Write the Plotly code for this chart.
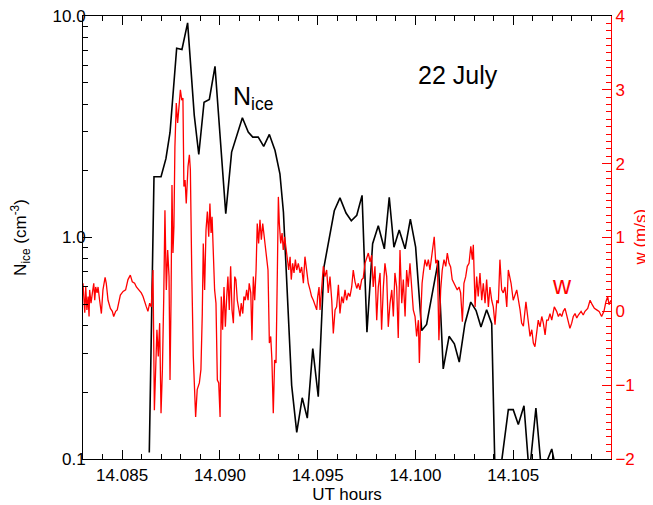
import plotly.graph_objects as go

# ---------------- data ----------------
# Ice number concentration (cm^-3), left log axis
nice_time = [14.08639, 14.08663, 14.08699, 14.08724, 14.08745, 14.08779, 14.08806, 14.08835,
             14.08869, 14.08892, 14.08919, 14.08946, 14.08975, 14.09030, 14.09060, 14.09115,
             14.09145, 14.09168, 14.09196, 14.09224, 14.09253, 14.09282, 14.09307, 14.09325,
             14.09367, 14.09393, 14.09421, 14.09447, 14.09475, 14.09503, 14.09532, 14.09585,
             14.09614, 14.09645, 14.09672, 14.09700, 14.09727, 14.09752, 14.09781, 14.09810,
             14.09841, 14.09866, 14.09890, 14.09917, 14.09947, 14.09974, 14.10001, 14.10032,
             14.10057, 14.10117, 14.10142, 14.10172, 14.10199, 14.10224, 14.10253, 14.10283,
             14.10310, 14.10335, 14.10364, 14.10390, 14.10407, 14.10432, 14.10475, 14.10500,
             14.10526, 14.10555, 14.10582, 14.10616, 14.10646, 14.10697, 14.10724]
nice_vals = [0.107, 1.88, 1.88, 2.27, 2.98, 7.16, 7.06, 9.31,
             3.56, 2.37, 4.08, 4.20, 5.93, 1.28, 2.43, 3.47,
             2.99, 2.84, 2.84, 2.58, 2.92, 2.47, 1.94, 1.30,
             0.215, 0.132, 0.189, 0.153, 0.315, 0.191, 0.734, 1.32,
             1.51, 1.29, 1.19, 1.26, 1.55, 0.374, 0.937, 1.13,
             0.889, 1.52, 0.904, 1.08, 0.889, 1.21, 0.904, 0.380,
             0.405, 0.787, 0.255, 0.358, 0.331, 0.274, 0.408, 0.511,
             0.468, 0.394, 0.472, 0.408, 0.085, 0.085, 0.167, 0.167,
             0.143, 0.174, 0.085, 0.170, 0.085, 0.111, 0.085]

# Vertical wind w (m/s), right linear axis
w_time = [
    14.08300, 14.08309, 14.08314, 14.08320, 14.08326, 14.08331, 14.08334, 14.08341, 14.08348, 14.08355,
    14.08360, 14.08365, 14.08372, 14.08377, 14.08385, 14.08394, 14.08402, 14.08413, 14.08419, 14.08428,
    14.08440, 14.08450, 14.08457, 14.08467, 14.08475, 14.08483, 14.08491, 14.08505, 14.08518, 14.08530,
    14.08542, 14.08552, 14.08564, 14.08573, 14.08586, 14.08598, 14.08607, 14.08616, 14.08624, 14.08632,
    14.08641, 14.08649, 14.08658, 14.08665, 14.08672, 14.08678, 14.08685, 14.08692, 14.08699, 14.08706,
    14.08713, 14.08719, 14.08726, 14.08733, 14.08740, 14.08745, 14.08750, 14.08755, 14.08760, 14.08765,
    14.08770, 14.08777, 14.08784, 14.08791, 14.08798, 14.08805, 14.08811, 14.08816, 14.08822, 14.08828,
    14.08837, 14.08844, 14.08849, 14.08856, 14.08864, 14.08876, 14.08884, 14.08895, 14.08903, 14.08910,
    14.08915, 14.08922, 14.08929, 14.08936, 14.08943, 14.08949, 14.08955, 14.08960, 14.08966, 14.08973,
    14.08980, 14.08987, 14.08994, 14.09001, 14.09007, 14.09014, 14.09021, 14.09028, 14.09035, 14.09041,
    14.09048, 14.09055, 14.09062, 14.09069, 14.09076, 14.09082, 14.09089, 14.09096, 14.09103, 14.09109,
    14.09117, 14.09123, 14.09130, 14.09137, 14.09144, 14.09150, 14.09158, 14.09164, 14.09171, 14.09178,
    14.09185, 14.09191, 14.09198, 14.09205, 14.09212, 14.09219, 14.09226, 14.09232, 14.09239, 14.09246,
    14.09253, 14.09260, 14.09266, 14.09273, 14.09280, 14.09287, 14.09294, 14.09299, 14.09304, 14.09311,
    14.09318, 14.09324, 14.09331, 14.09338, 14.09345, 14.09352, 14.09359, 14.09365, 14.09372, 14.09379,
    14.09386, 14.09393, 14.09401, 14.09410, 14.09418, 14.09427, 14.09435, 14.09444, 14.09452, 14.09461,
    14.09469, 14.09478, 14.09486, 14.09495, 14.09500, 14.09507, 14.09512, 14.09521, 14.09529, 14.09537,
    14.09546, 14.09554, 14.09563, 14.09572, 14.09580, 14.09589, 14.09597, 14.09606, 14.09614, 14.09623,
    14.09631, 14.09640, 14.09648, 14.09657, 14.09665, 14.09674, 14.09682, 14.09691, 14.09700, 14.09708,
    14.09716, 14.09725, 14.09733, 14.09742, 14.09751, 14.09759, 14.09768, 14.09776, 14.09784, 14.09793,
    14.09802, 14.09810, 14.09819, 14.09827, 14.09836, 14.09844, 14.09853, 14.09861, 14.09870, 14.09879,
    14.09887, 14.09895, 14.09904, 14.09912, 14.09921, 14.09930, 14.09938, 14.09947, 14.09955, 14.09963,
    14.09972, 14.09981, 14.09989, 14.09998, 14.10006, 14.10015, 14.10020, 14.10027, 14.10034, 14.10040,
    14.10049, 14.10058, 14.10066, 14.10074, 14.10083, 14.10091, 14.10096, 14.10104, 14.10112, 14.10120,
    14.10129, 14.10137, 14.10146, 14.10155, 14.10163, 14.10172, 14.10180, 14.10188, 14.10197, 14.10206,
    14.10214, 14.10223, 14.10231, 14.10240, 14.10248, 14.10257, 14.10265, 14.10274, 14.10283, 14.10291,
    14.10296, 14.10305, 14.10313, 14.10321, 14.10330, 14.10339, 14.10347, 14.10356, 14.10364, 14.10373,
    14.10381, 14.10390, 14.10398, 14.10407, 14.10416, 14.10424, 14.10432, 14.10441, 14.10449, 14.10458,
    14.10467, 14.10475, 14.10489, 14.10500, 14.10518, 14.10535, 14.10543, 14.10552, 14.10565, 14.10574,
    14.10586, 14.10595, 14.10603, 14.10611, 14.10620, 14.10628, 14.10637, 14.10646, 14.10654, 14.10663,
    14.10671, 14.10679, 14.10688, 14.10697, 14.10710, 14.10722, 14.10731, 14.10739, 14.10748, 14.10756,
    14.10765, 14.10774, 14.10782, 14.10790, 14.10799, 14.10807, 14.10816, 14.10825, 14.10833, 14.10847,
    14.10858, 14.10867, 14.10881, 14.10893, 14.10904, 14.10915, 14.10927, 14.10939, 14.10952, 14.10964,
    14.10974, 14.10983, 14.10990, 14.11000]
w_vals = [
    0.38, -0.02, 0.33, 0.02, 0.20, -0.07, 0.29, 0.11, 0.25, 0.38,
    0.15, 0.33, 0.25, 0.33, 0.15, -0.03, 0.29, 0.46, 0.38, 0.15,
    0.04, 0.00, -0.07, 0.00, 0.02, 0.15, 0.22, 0.27, 0.29, 0.43,
    0.49, 0.40, 0.38, 0.33, 0.29, 0.25, 0.20, 0.11, 0.06, 0.00,
    0.11, 0.06, 0.56, -1.34, -0.79, -0.25, -0.61, -0.16, -1.38, -0.79,
    0.20, 1.37, 0.29, 0.83, 0.47, -0.93, 0.11, 1.71, 0.79, 1.15,
    2.23, 2.82, 2.55, 2.86, 3.00, 2.86, 2.89, 1.69, 1.78, 1.46,
    1.96, 2.12, 1.92, 0.56, -0.61, -1.43, -1.06, -0.97, -0.79, -0.03,
    0.92, 0.29, 1.10, 1.35, 1.01, 1.46, 1.06, 1.28, 0.65, 0.29,
    0.11, -0.93, -0.97, -1.43, 0.20, -0.25, 0.33, -0.21, 0.20, 0.47,
    0.02, 0.61, 0.02, -0.16, 0.47, 0.43, 0.15, 0.02, -0.07, 0.11,
    -0.03, 0.20, 0.15, 0.29, 0.15, 0.38, 0.25, -0.39, 0.47, 0.15,
    0.56, 1.19, 0.92, 1.24, 0.97, 1.19, 1.01, 0.83, 0.74, 0.56,
    -0.43, -0.34, -0.66, -1.38, -0.66, -0.70, 0.56, 1.55, 1.19, 0.92,
    1.06, 0.83, 1.01, 0.83, 0.74, 0.56, 0.74, 0.43, 0.65, 0.52,
    0.70, 0.56, 0.65, 0.52, 0.60, 0.38, 0.74, 0.56, 0.38, 0.29,
    0.20, 0.15, 0.10, 0.02, 0.20, 0.33, 0.02, 0.28, 0.61, 0.47,
    0.56, 0.25, 0.47, 0.15, -0.30, 0.02, 0.06, 0.36, -0.03, 0.20,
    0.11, 0.29, 0.15, 0.25, 0.20, 0.33, 0.56, 0.40, 0.31, 0.38,
    0.29, 0.43, 0.45, 0.65, 0.74, 0.79, 0.67, 0.76, 0.33, 0.61,
    -0.12, 0.33, 0.52, -0.25, 0.33, 0.65, 0.47, -0.21, 0.11, 0.29,
    -0.07, 0.52, 0.33, -0.36, 0.83, 0.11, 0.43, -0.07, 0.56, 0.33,
    0.65, 0.25, 0.02, -0.07, -0.34, -0.12, -0.70, -0.07, 0.38, 0.52,
    0.70, 0.61, 0.70, 0.56, 0.74, 0.88, 1.01, 0.65, 0.70, -0.39,
    0.29, 0.56, 0.70, 0.61, 0.79, 0.65, 0.60, 0.43, 0.38, 0.33,
    0.29, 0.33, 0.25, -0.14, 0.38, 0.47, 0.61, 0.65, 0.88, 0.70,
    0.90, 0.06, 0.47, 0.20, 0.52, 0.15, 0.38, 0.11, 0.43, 0.06,
    0.33, 0.15, 0.06, -0.18, 0.15, 0.11, 0.70, 0.29, 0.25, 0.33,
    0.06, 0.56, 0.38, 0.15, 0.29, 0.02, -0.16, -0.20, 0.13, -0.07,
    -0.34, -0.25, -0.43, -0.48, -0.25, -0.12, -0.21, -0.07, -0.16, -0.32,
    -0.12, -0.12, -0.03, -0.12, 0.06, 0.00, -0.07, -0.03, -0.07, 0.00,
    0.04, -0.07, -0.16, -0.23, -0.16, -0.07, -0.03, -0.09, -0.05, 0.00,
    -0.05, 0.00, 0.04, 0.15, 0.09, 0.04, 0.02, 0.00, -0.07, 0.00,
    0.13, 0.20, 0.09, 0.15]

x_range = [14.083, 14.110]
x_major_ticks = [14.085, 14.090, 14.095, 14.100, 14.105]
x_tick_labels = ["14.085", "14.090", "14.095", "14.100", "14.105"]
nice_major_ticks = [0.1, 1.0, 10.0]
nice_tick_labels = ["0.1", "1.0", "10.0"]
nice_minor_ticks = [0.2, 0.3, 0.4, 0.5, 0.6, 0.7, 0.8, 0.9, 2, 3, 4, 5, 6, 7, 8, 9]
w_range = [-2, 4]

# ---------------- figure ----------------
FONT = "Liberation Sans, Arial, Helvetica, sans-serif"
RED = "#ff0000"

fig = go.Figure()
fig.add_trace(go.Scatter(x=nice_time, y=nice_vals, mode="lines",
                         line=dict(color="black", width=1.6), yaxis="y", showlegend=False))
fig.add_trace(go.Scatter(x=w_time, y=w_vals, mode="lines",
                         line=dict(color=RED, width=1.3), yaxis="y2", showlegend=False))

# page body has an 8px margin, so the figure is drawn 8px in from the top-left
fig.update_layout(
    width=645, height=497,
    margin=dict(l=75, r=42, t=8, b=46),
    paper_bgcolor="white", plot_bgcolor="white",
    font=dict(family=FONT, size=17, color="black"),
    showlegend=False,
    xaxis=dict(
        range=x_range, tickmode="array", tickvals=x_major_ticks, ticktext=x_tick_labels,
        ticks="inside", ticklen=9, tickwidth=1, tickcolor="black",
        minor=dict(dtick=0.001, tick0=14.083, ticks="inside", ticklen=5, tickwidth=1,
                   tickcolor="black", showgrid=False),
        showline=True, linecolor="black", linewidth=1, mirror="ticks",
        showgrid=False, zeroline=False, automargin=False,
        tickfont=dict(size=17), ticklabelstandoff=1, ticklabeloverflow="allow",
        title=dict(text="UT hours", font=dict(size=17), standoff=2),
    ),
    yaxis=dict(
        type="log", range=[-1, 1], tickmode="array",
        tickvals=nice_major_ticks, ticktext=nice_tick_labels,
        ticks="inside", ticklen=9, tickwidth=1, tickcolor="black",
        minor=dict(tickmode="array", tickvals=nice_minor_ticks, ticks="inside",
                   ticklen=5, tickwidth=1, tickcolor="black", showgrid=False),
        showline=True, linecolor="black", linewidth=1,
        showgrid=False, zeroline=False, automargin=False,
        tickfont=dict(size=17), ticklabelstandoff=-7, ticklabeloverflow="allow",
        title=dict(text="N<sub>ice</sub> (cm<sup>-3</sup>)", font=dict(size=17), standoff=26),
    ),
    yaxis2=dict(
        overlaying="y", side="right", range=w_range, tickmode="linear", tick0=0, dtick=1,
        ticks="inside", ticklen=9, tickwidth=1, tickcolor=RED,
        minor=dict(dtick=0.1, tick0=0, ticks="inside", ticklen=5, tickwidth=1,
                   tickcolor=RED, showgrid=False),
        showline=True, linecolor=RED, linewidth=1,
        showgrid=False, zeroline=False, automargin=False,
        tickfont=dict(size=17, color=RED), ticklabeloverflow="allow",
    ),
    annotations=[
        dict(text="w (m/s)", xref="paper", yref="paper", x=1.055, y=0.5,
             xanchor="center", yanchor="middle", textangle=-90, showarrow=False,
             font=dict(size=17, color=RED, family=FONT)),
        dict(text="22 July", xref="paper", yref="paper", x=0.710, y=0.867,
             xanchor="center", yanchor="middle", showarrow=False,
             font=dict(size=25, color="black", family=FONT)),
        dict(text="N<sub>ice</sub>", xref="paper", yref="paper", x=0.280, y=0.815,
             xanchor="left", yanchor="middle", showarrow=False,
             font=dict(size=25, color="black", family=FONT)),
        dict(text="w", xref="paper", yref="paper", x=0.907, y=0.393,
             xanchor="center", yanchor="middle", showarrow=False,
             font=dict(size=25, color=RED, family=FONT)),
    ],
)

fig.write_html("out.html")
